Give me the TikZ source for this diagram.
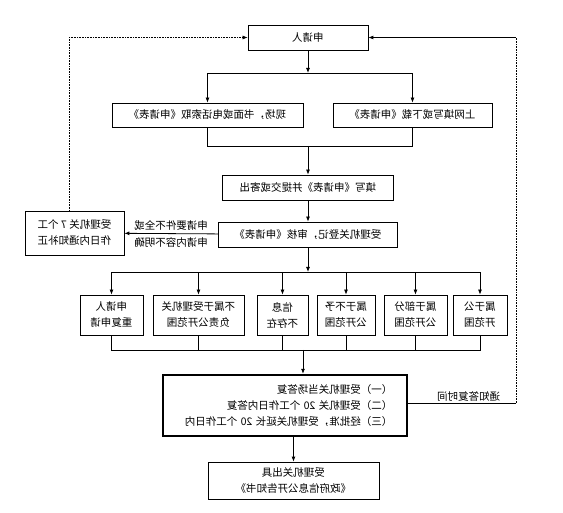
\documentclass[tikz,border=0pt]{standalone}
\usepackage{fontspec}
\newfontfamily\cjk{Noto Sans CJK SC}
\usetikzlibrary{arrows.meta}

\begin{document}
\begin{tikzpicture}[x=1pt, y=-1pt, xscale=-1,
        every node/.append style={transform shape},
        stage/.style={draw, line width=0.8pt, inner sep=0pt, align=center,
            font=\cjk\fontsize{10.5}{16}\selectfont},
        tag/.style={inner sep=1pt, align=center, font=\cjk\fontsize{10.5}{17}\selectfont},
        link/.style={line width=0.8pt, -{Latex[length=5pt, width=4pt]}},
        wire/.style={line width=0.8pt},
        loop/.style={line width=0.6pt, densely dotted}]
            \useasboundingbox (0,0) rectangle (563,513);

            \node[stage, minimum width=120pt, minimum height=25pt] (apply) at (255, 37.5) {申请人};
            \node[stage, minimum width=159pt, minimum height=24pt] (online) at (150.5, 115) {上网填写或下载《申请表》};
            \node[stage, minimum width=191pt, minimum height=24pt] (onsite) at (355.5, 115) {现场，书面或电话索取《申请表》};
            \node[stage, minimum width=171pt, minimum height=25pt] (fill) at (255, 187.5) {填写《申请表》并提交或寄出};
            \node[stage, minimum width=179pt, minimum height=25pt] (register) at (255, 234.5) {受理机关登记，审核《申请表》};
            \node[stage, minimum width=99pt, minimum height=44pt] (notify) at (488.5, 233) {受理机关 7 个工\\作日内通知补正};

            \node[stage, minimum width=63pt, minimum height=40pt] (b1) at (451.5, 315) {申请人\\重复申请};
            \node[stage, minimum width=91pt, minimum height=40pt] (b2) at (364.5, 315) {不属于受理机关\\负责公开范围};
            \node[stage, minimum width=51pt, minimum height=40pt] (b3) at (280.5, 315) {信息\\不存在};
            \node[stage, minimum width=58pt, minimum height=40pt] (b4) at (217, 315) {属于不予\\公开范围};
            \node[stage, minimum width=63pt, minimum height=40pt] (b5) at (147.5, 315) {属于部分\\公开范围};
            \node[stage, minimum width=54pt, minimum height=40pt] (b6) at (83, 315) {属于公\\开范围};

            \node[stage, line width=2.4pt, minimum width=244pt, minimum height=61pt,
                text width=215pt, align=left] (answer) at (278, 405.5)
                {（一）受理机关当场答复\\（二）受理机关 20 个工作日内答复\\（三）经批准，受理机关延长 20 个工作日内};
            \node[stage, minimum width=171pt, minimum height=37pt] (result) at (269.5, 480.5) {受理机关出具\\《政府信息公开告知书》};

            \coordinate (split) at (255, 73);
            \coordinate (merge) at (255, 146);
            \coordinate (branch) at (255, 272);
            \coordinate (join) at (260, 350);
            \coordinate (back) at (47, 403);
            \coordinate (top) at (47, 37.5);
            \coordinate (redo) at (494, 37.5);

            \draw[link] (apply) -- (split);
            \draw[link] (split) -| (online);
            \draw[link] (split) -| (onsite);
            \draw[wire] (online) |- (merge);
            \draw[wire] (onsite) |- (merge);
            \draw[link] (merge) -- (fill);
            \draw[link] (fill) -- (register);
            \draw[link] (register) -- (notify)
                node[tag, midway] {申请要件不全或\\申请内容不明确};
            \draw[link] (register) -- (branch);
            \foreach \b in {b1, b2, b3, b4, b5, b6} {
                \draw[link] (branch) -| (\b);
                \draw[wire] (\b) |- (join);
            }
            \draw[link] (join) -- (join |- answer.north);
            \draw[link] (result.north |- answer.south) -- (result);

            \draw[wire] (answer.west |- back) -- (back)
                node[tag, pos=0.56, above] {通知答复时间};
            \draw[loop] (back) -- (top);
            \draw[link] (top) -- (apply);
            \draw[loop] (notify.north -| redo) -- (redo);
            \draw[link, loop] (redo) -- (apply);
\end{tikzpicture}
\end{document}
